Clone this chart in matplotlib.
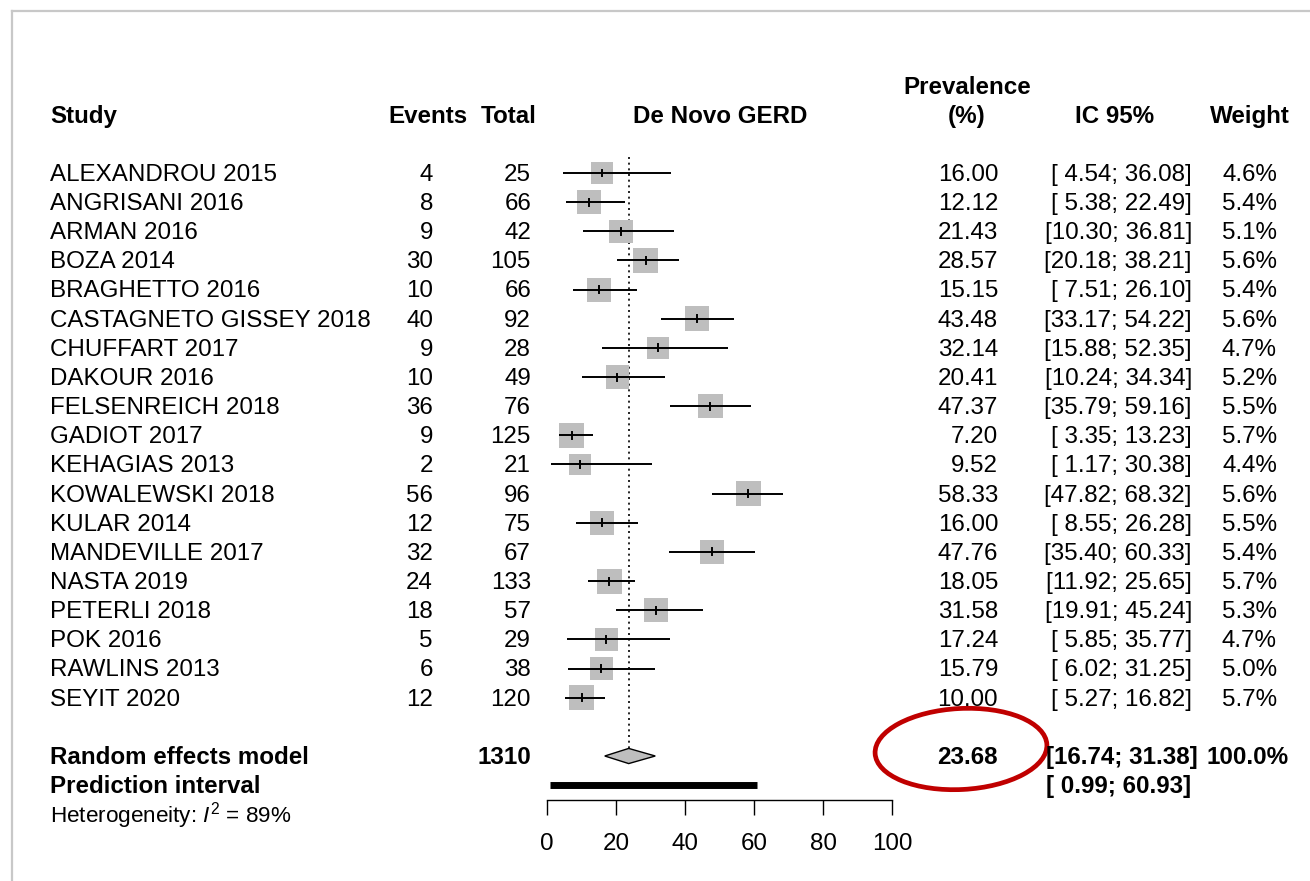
## Forest plot of de novo GERD prevalence (random effects meta-analysis)
import matplotlib
matplotlib.use('Agg')
import matplotlib.pyplot as plt
from matplotlib.patches import Rectangle, Polygon, Ellipse
from matplotlib.lines import Line2D
from matplotlib import transforms
import numpy as np

plt.rcParams['font.family'] = ['Liberation Sans', 'DejaVu Sans']
plt.rcParams['mathtext.fontset'] = 'custom'
plt.rcParams['mathtext.rm'] = 'Liberation Sans'
plt.rcParams['mathtext.it'] = 'Liberation Sans:italic'

studies = ['ALEXANDROU 2015', 'ANGRISANI 2016', 'ARMAN 2016', 'BOZA 2014',
           'BRAGHETTO 2016', 'CASTAGNETO GISSEY 2018', 'CHUFFART 2017',
           'DAKOUR 2016', 'FELSENREICH 2018', 'GADIOT 2017', 'KEHAGIAS 2013',
           'KOWALEWSKI 2018', 'KULAR 2014', 'MANDEVILLE 2017', 'NASTA 2019',
           'PETERLI 2018', 'POK 2016', 'RAWLINS 2013', 'SEYIT 2020']
events = [4, 8, 9, 30, 10, 40, 9, 10, 36, 9, 2, 56, 12, 32, 24, 18, 5, 6, 12]
total = [25, 66, 42, 105, 66, 92, 28, 49, 76, 125, 21, 96, 75, 67, 133, 57, 29, 38, 120]
prev = [16.00, 12.12, 21.43, 28.57, 15.15, 43.48, 32.14, 20.41, 47.37, 7.20,
        9.52, 58.33, 16.00, 47.76, 18.05, 31.58, 17.24, 15.79, 10.00]
lower = [4.54, 5.38, 10.30, 20.18, 7.51, 33.17, 15.88, 10.24, 35.79, 3.35,
         1.17, 47.82, 8.55, 35.40, 11.92, 19.91, 5.85, 6.02, 5.27]
upper = [36.08, 22.49, 36.81, 38.21, 26.10, 54.22, 52.35, 34.34, 59.16, 13.23,
         30.38, 68.32, 26.28, 60.33, 25.65, 45.24, 35.77, 31.25, 16.82]
weight = [4.6, 5.4, 5.1, 5.6, 5.4, 5.6, 4.7, 5.2, 5.5, 5.7, 4.4, 5.6, 5.5,
          5.4, 5.7, 5.3, 4.7, 5.0, 5.7]

re_total = 1310
re_est, re_lo, re_hi = 23.68, 16.74, 31.38
re_weight = 100.0
pi_lo, pi_hi = 0.99, 60.93
i2 = 89
xticks = [0, 20, 40, 60, 80, 100]

W, H = 1310, 881
ROW0, ROWH = 173.0, 29.15      # pixel centre of first study row, row height
X0, X100 = 547.0, 892.0        # pixel span of the 0..100 scale
AXIS_Y = 799.5
FS = 17.4
BASE = 0.27                    # baseline offset below row centre

fig = plt.figure(figsize=(W / 100, H / 100), dpi=100)
ax = fig.add_axes([X0 / W, (H - AXIS_Y) / H, (X100 - X0) / W, AXIS_Y / H])
ax.set_xlim(0, 100)
ax.set_ylim((AXIS_Y - ROW0) / ROWH, (0 - ROW0) / ROWH)
ax.patch.set_visible(False)
for s in ['top', 'left', 'right']:
    ax.spines[s].set_visible(False)
ax.spines['bottom'].set_bounds(0, 100)
ax.spines['bottom'].set_linewidth(1.0)
ax.set_yticks([])
ax.set_xticks(xticks)
ax.tick_params(axis='x', direction='out', length=10.8, width=1.0,
               labelsize=FS, pad=13)

tr = transforms.blended_transform_factory(fig.transFigure, ax.transData)
px = lambda x: x / W

n = len(studies)
rows = np.arange(n)
re_row, pi_row, het_row = n + 1, n + 2, n + 3
head_row = -1.70

# study rows: CI line, weighted square, estimate tick
xscale = (X100 - X0) / 100.0
for r, p, lo, hi, w in zip(rows, prev, lower, upper, weight):
    side = 10.4 * np.sqrt(w)
    ax.add_patch(Rectangle((p - side / xscale / 2, r - side / ROWH / 2),
                           side / xscale, side / ROWH,
                           facecolor='#BEBEBE', edgecolor='none', zorder=2))
    ax.plot([lo, hi], [r, r], color='black', lw=1.4, zorder=3,
            solid_capstyle='butt')
    ax.plot([p, p], [r - 0.12, r + 0.12], color='black', lw=1.4, zorder=3)

# pooled estimate reference line and diamond
dh = 0.26
ax.plot([re_est, re_est], [-0.55, re_row - dh], color='black', lw=1.2,
        ls=(0, (1.2, 2.2)), zorder=1)
ax.add_patch(Polygon([[re_lo, re_row], [re_est, re_row - dh],
                      [re_hi, re_row], [re_est, re_row + dh]],
                     closed=True, facecolor='#BEBEBE', edgecolor='black',
                     lw=1.0, zorder=3))
ax.plot([pi_lo, pi_hi], [pi_row, pi_row], color='black', lw=5,
        solid_capstyle='butt', clip_on=False)

# column headers
bold = dict(fontsize=FS, fontweight='bold', va='baseline', transform=tr)
fig.text(px(50), head_row, 'Study', ha='left', **bold)
fig.text(px(467), head_row, 'Events', ha='right', **bold)
fig.text(px(537), head_row, 'Total', ha='right', **bold)
fig.text(px(720), head_row, 'De Novo GERD', ha='center', **bold)
fig.text(px(967), head_row - 1, 'Prevalence', ha='center', **bold)
fig.text(px(967), head_row, '(%)', ha='center', **bold)
fig.text(px(1115), head_row, 'IC 95%', ha='center', **bold)
fig.text(px(1250), head_row, 'Weight', ha='center', **bold)

norm = dict(fontsize=FS, va='baseline', transform=tr)
for r, name, e, t, p, lo, hi, w in zip(rows, studies, events, total,
                                       prev, lower, upper, weight):
    y = r + BASE
    fig.text(px(50), y, name, ha='left', **norm)
    fig.text(px(433), y, str(e), ha='right', **norm)
    fig.text(px(531), y, str(t), ha='right', **norm)
    fig.text(px(998), y, '%.2f' % p, ha='right', **norm)
    fig.text(px(1192), y, '[%5.2f; %5.2f]' % (lo, hi), ha='right', **norm)
    fig.text(px(1277), y, '%.1f%%' % w, ha='right', **norm)

# pooled rows
y = re_row + BASE
fig.text(px(50), y, 'Random effects model', ha='left', **bold)
fig.text(px(531), y, str(re_total), ha='right', **bold)
fig.text(px(998), y, '%.2f' % re_est, ha='right', **bold)
fig.text(px(1046), y, '[%5.2f; %5.2f]' % (re_lo, re_hi), ha='left', **bold)
fig.text(px(1289), y, '%.1f%%' % re_weight, ha='right', **bold)
y = pi_row + BASE
fig.text(px(50), y, 'Prediction interval', ha='left', **bold)
fig.text(px(1046), y, '[%5.2f; %5.2f]' % (pi_lo, pi_hi), ha='left', **bold)
fig.text(px(50), het_row + BASE, r'Heterogeneity: $\mathit{I}^2$ = %d%%' % i2,
         ha='left', fontsize=16.2, va='baseline', transform=tr)

# highlight around the pooled prevalence
fig.add_artist(Ellipse((9.61, (H - 749) / 100), 1.72, 0.81, angle=3,
                       transform=fig.dpi_scale_trans, fill=False,
                       edgecolor='#C00000', lw=3.4))

# frame edges
fig.add_artist(Line2D([px(12), 1], [1 - 11 / H, 1 - 11 / H],
                      transform=fig.transFigure, color='#C8C8C8', lw=1.6))
fig.add_artist(Line2D([px(12), px(12)], [0, 1 - 11 / H],
                      transform=fig.transFigure, color='#C8C8C8', lw=1.6))

fig.savefig('out.png', dpi=100)
